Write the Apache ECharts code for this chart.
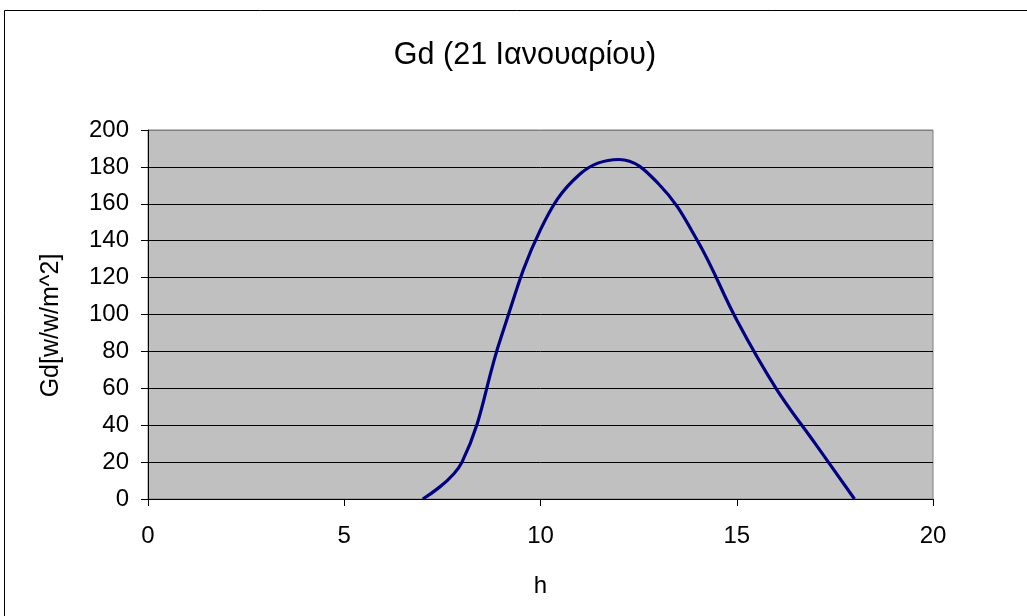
<!DOCTYPE html>
<html>
<head>
<meta charset="utf-8">
<script src="https://cdn.jsdelivr.net/npm/echarts@6/dist/echarts.min.js"></script>
<style>
html,body{margin:0;padding:0;background:#fff;}
#c{width:1027px;height:616px;}
</style>
</head>
<body>
<div id="c"></div>
<script>
var titleText = 'Gd (21 Ιανουαρίου)';
var xName = 'h';
var yName = 'Gd[w/w/m^2]';
var hours = [7, 8, 9, 10, 11, 12, 13, 14, 15, 16, 17, 18];
var gd = [0, 20, 88, 146, 176, 184, 171, 140, 97, 60, 30, 0];

var chart = echarts.init(document.getElementById('c'), null, {renderer: 'canvas'});
var font = '"Liberation Sans", Arial, sans-serif';
var gridColors = ['#000','#000','#000','#000','#000','#000','#000','#000','#000','#000','#808080'];
chart.setOption({
  animation: false,
  backgroundColor: '#fff',
  title: {
    text: titleText,
    left: 520, top: 35, textAlign: 'center',
    textStyle: {fontFamily: font, fontSize: 30.5, fontWeight: 'normal', color: '#000'}
  },
  graphic: [{
    type: 'rect', silent: true, z: 100,
    shape: {x: 4.5, y: 10.5, width: 1100, height: 700},
    style: {fill: 'none', stroke: '#000', lineWidth: 1}
  }],
  grid: {
    left: 148, right: 94, top: 130, bottom: 117,
    show: true, backgroundColor: '#C0C0C0', borderColor: '#808080', borderWidth: 1
  },
  xAxis: {
    type: 'value', min: 0, max: 20, interval: 5,
    name: xName, nameLocation: 'middle', nameGap: 75,
    nameTextStyle: {fontFamily: font, fontSize: 24, color: '#000'},
    axisLine: {show: true, onZero: false, lineStyle: {color: '#000', width: 1}},
    axisTick: {show: true, inside: false, length: 7, lineStyle: {color: '#000'}},
    axisLabel: {fontFamily: font, fontSize: 24, color: '#000', margin: 25},
    splitLine: {show: false}
  },
  yAxis: {
    type: 'value', min: 0, max: 200, interval: 20,
    name: yName, nameLocation: 'middle', nameGap: 84, nameRotate: 90,
    nameTextStyle: {fontFamily: font, fontSize: 25, color: '#000', padding: [0, 22, 0, 0]},
    axisLine: {show: true, onZero: false, lineStyle: {color: '#000', width: 1}},
    axisTick: {show: true, inside: false, length: 7, lineStyle: {color: '#000'}},
    axisLabel: {fontFamily: font, fontSize: 24, color: '#000', margin: 19},
    splitLine: {show: true, lineStyle: {color: gridColors, width: 1}}
  },
  series: [{
    type: 'line',
    data: hours.map(function(h, i){ return [h, gd[i]]; }),
    smooth: 0.4,
    showSymbol: false,
    lineStyle: {color: '#000080', width: 3.2},
    z: 5
  }]
});
</script>
</body>
</html>
